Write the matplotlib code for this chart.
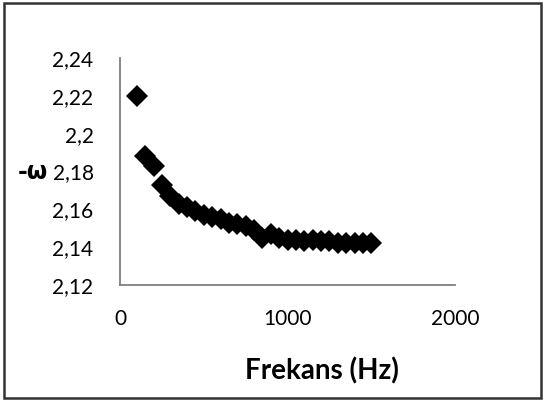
import matplotlib
matplotlib.use("Agg")
import matplotlib.pyplot as plt
import numpy as np
from matplotlib.patches import Rectangle
from matplotlib.ticker import FuncFormatter

freq = [100, 150, 200, 250, 300, 350, 400, 450, 500, 550, 600, 650, 700, 750,
        800, 850, 900, 950, 1000, 1050, 1100, 1150, 1200, 1250, 1300, 1350,
        1400, 1450, 1500]
omega = [2.220, 2.188, 2.183, 2.173, 2.167, 2.163, 2.161, 2.159, 2.157, 2.156,
         2.155, 2.153, 2.152, 2.151, 2.149, 2.145, 2.147, 2.145, 2.144, 2.144,
         2.143, 2.144, 2.143, 2.143, 2.142, 2.142, 2.142, 2.142, 2.142]
x_ticks = [0, 1000, 2000]
y_ticks = [2.12, 2.14, 2.16, 2.18, 2.20, 2.22, 2.24]
x_label = "Frekans (Hz)"
y_label = "-ω"

W, H = 545, 401
fig = plt.figure(figsize=(W / 100, H / 100), dpi=100)
fig.patch.set_facecolor("white")
font = "Lato"

ax = fig.add_axes([120 / W, 1 - 285 / H, (455 - 120) / W, (285 - 58) / H])
ax.plot(freq, omega, linestyle="none", marker="D", markersize=11.5,
        color="black", markeredgewidth=0)
ax.set_xlim(0, 2000)
ax.set_ylim(2.12, 2.24)
ax.set_xticks(x_ticks)
ax.set_yticks(y_ticks)
fmt = FuncFormatter(lambda v, p: ("%g" % round(v, 4)).replace(".", ","))
ax.yaxis.set_major_formatter(fmt)
ax.xaxis.set_major_formatter(fmt)
for s in ["top", "right"]:
    ax.spines[s].set_visible(False)
for s in ["left", "bottom"]:
    ax.spines[s].set_color("#7f7f7f")
    ax.spines[s].set_linewidth(1.3)
ax.tick_params(length=0, labelsize=15, colors="black")
ax.tick_params(axis="y", pad=19)
ax.tick_params(axis="x", pad=17)
for lab in ax.get_xticklabels() + ax.get_yticklabels():
    lab.set_fontfamily(font)

fig.text(322 / W, 1 - 371 / H, x_label, ha="center", va="center",
         fontsize=20, fontweight="bold", family=font)
fig.text(33 / W, 1 - 172 / H, y_label, ha="center", va="center",
         fontsize=17, fontweight="bold", family="DejaVu Sans")

fig.patches.append(Rectangle((4 / W, 3 / H), (541 - 4) / W, (398 - 3) / H,
                             transform=fig.transFigure, fill=False,
                             edgecolor="#333333", linewidth=1.8))

fig.savefig("out.png", dpi=100, facecolor="white")
